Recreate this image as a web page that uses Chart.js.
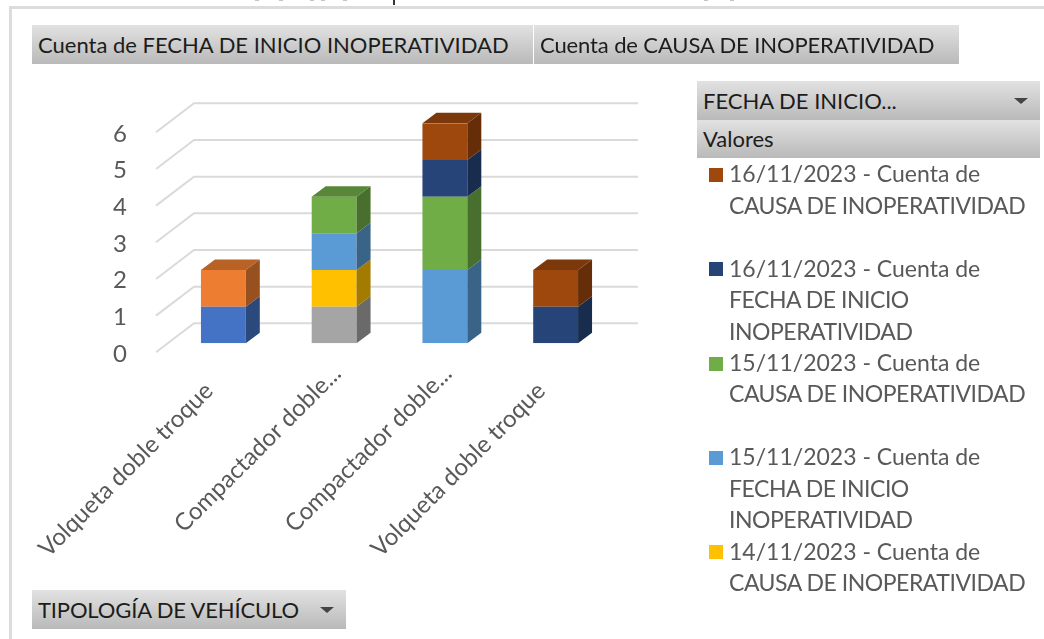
<!DOCTYPE html>
<html lang="es">
<head>
<meta charset="utf-8">
<title>Cuenta de inoperatividad</title>
<script src="https://cdn.jsdelivr.net/npm/chart.js@4"></script>
<style>
  html, body { margin: 0; padding: 0; background: #fff; }
  body { position: relative; width: 1044px; height: 639px; overflow: hidden; font-family: Lato, sans-serif; }
  canvas { position: absolute; left: 0; top: 0; }
  .frame-top { position: absolute; left: 9px; top: 6px; width: 1035px; height: 3px; background: #dcdcdc; }
  .frame-left { position: absolute; left: 9px; top: 6px; width: 3px; height: 633px; background: #dcdcdc; }
  .cut-mark { position: absolute; left: 393px; top: 0; width: 2px; height: 5px; background: #333; }
  .speck { position: absolute; top: 0; width: 4px; height: 1px; background: #c4c4c4; }
  .btn { position: absolute; box-sizing: border-box; height: 39px; line-height: 39px; padding-left: 6px; color: #1c1c1c;
         font-size: 22px; white-space: nowrap; overflow: hidden; background: linear-gradient(#e2e2e2, #b9b9b9); }
  .btn.arrow::after { content: ''; position: absolute; top: 17px; border-left: 7px solid transparent; border-right: 7px solid transparent; border-top: 6px solid #444; right: 12px; }
  #legend { position: absolute; left: 709px; top: 158.4px; }
  .item { position: relative; height: 94.3px; padding-left: 20px; color: #595959; font-size: 23px; line-height: 31.5px; white-space: nowrap; }
  .item i { position: absolute; left: 0; top: 9.6px; width: 14px; height: 14px; }
  .item span { letter-spacing: -0.47px; }
</style>
</head>
<body>
<canvas id="chart" width="1044" height="639"></canvas>
<div class="frame-top"></div>
<div class="frame-left"></div>
<div class="cut-mark"></div>
<div class="speck" style="left:255px"></div>
<div class="speck" style="left:279px"></div>
<div class="speck" style="left:310px"></div>
<div class="speck" style="left:321px"></div>
<div class="speck" style="left:343px"></div>
<div class="speck" style="left:704px"></div>
<div class="speck" style="left:730px"></div>
<div class="btn" style="left:32px;top:25px;width:501px;">Cuenta de FECHA DE INICIO INOPERATIVIDAD</div>
<div class="btn" style="left:534px;top:25px;width:425px;letter-spacing:-0.12px;">Cuenta de CAUSA DE INOPERATIVIDAD</div>
<div class="btn arrow" style="left:697px;top:81px;width:343px;">FECHA DE INICIO...</div>
<div class="btn" style="left:697px;top:120px;width:343px;height:38px;line-height:38px;">Valores</div>
<div class="btn arrow" style="left:32px;top:590px;width:314px;letter-spacing:-0.15px;">TIPOLOGÍA DE VEHÍCULO</div>
<div id="legend"></div>
<script>
const categories = ['Volqueta doble troque', 'Compactador doble...', 'Compactador doble...', 'Volqueta doble troque'];
const yTicks = [0, 1, 2, 3, 4, 5, 6];

// stacking order, bottom to top
const seriesBlue = [1, null, null, null];
const seriesOrange = [1, null, null, null];
const seriesGray = [null, 1, null, null];
const seriesYellow = [null, 1, null, null];
const seriesLightBlue = [null, 1, 2, null];
const seriesGreen = [null, 1, 2, null];
const seriesNavy = [null, null, 1, 1];
const seriesBrown = [null, null, 1, 1];

const seriesValues = [seriesBlue, seriesOrange, seriesGray, seriesYellow, seriesLightBlue, seriesGreen, seriesNavy, seriesBrown];
const seriesColors = ['#4472C4', '#ED7D31', '#A5A5A5', '#FFC000', '#5B9BD5', '#70AD47', '#264478', '#9E480E'];
const seriesNames = ['Azul', 'Naranja', 'Gris', '14/11/2023 - CAUSA', '15/11/2023 - FECHA', '15/11/2023 - CAUSA', '16/11/2023 - FECHA', '16/11/2023 - CAUSA'];

const legendDates = ['16/11/2023 - Cuenta de', '16/11/2023 - Cuenta de', '15/11/2023 - Cuenta de', '15/11/2023 - Cuenta de', '14/11/2023 - Cuenta de'];
const legendFields = [
  ['CAUSA DE INOPERATIVIDAD'],
  ['FECHA DE INICIO', 'INOPERATIVIDAD'],
  ['CAUSA DE INOPERATIVIDAD'],
  ['FECHA DE INICIO', 'INOPERATIVIDAD'],
  ['CAUSA DE INOPERATIVIDAD']
];
const legendColors = ['#9E480E', '#264478', '#70AD47', '#5B9BD5', '#FFC000'];

const legend = document.getElementById('legend');
legendDates.forEach((date, i) => {
  const item = document.createElement('div');
  item.className = 'item';
  item.innerHTML = `<i style="background:${legendColors[i]}"></i>${date}<br>` +
    legendFields[i].map(l => `<span>${l}</span>`).join('<br>');
  legend.appendChild(item);
});

function shade(hex, f) {
  const n = parseInt(hex.slice(1), 16);
  const r = Math.round((n >> 16) * f);
  const g = Math.round(((n >> 8) & 255) * f);
  const b = Math.round((n & 255) * f);
  return `rgb(${r},${g},${b})`;
}

function poly(ctx, pts, color) {
  ctx.fillStyle = color;
  ctx.beginPath();
  pts.forEach((p, i) => i ? ctx.lineTo(p[0], p[1]) : ctx.moveTo(p[0], p[1]));
  ctx.closePath();
  ctx.fill();
}

// back wall and side wall of the 3D plot
const wallPlugin = {
  id: 'wall',
  beforeDatasetsDraw(chart) {
    const { ctx, chartArea, scales } = chart;
    ctx.save();
    ctx.strokeStyle = '#dadada';
    ctx.lineWidth = 2;
    yTicks.forEach(v => {
      const y = scales.y.getPixelForValue(v);
      ctx.beginPath();
      ctx.moveTo(chartArea.left - 12, y + 9);
      ctx.lineTo(chartArea.left + 26, y - 20);
      ctx.lineTo(chartArea.right + 27, y - 20);
      ctx.stroke();
    });
    ctx.restore();
  }
};

// side and top faces of the stacked boxes
const boxPlugin = {
  id: 'box',
  afterDatasetsDraw(chart) {
    const { ctx } = chart;
    const dx = 14;
    const dy = -10.5;
    const tops = {};
    chart.data.datasets.forEach((ds, d) => {
      chart.getDatasetMeta(d).data.forEach((bar, i) => {
        if (ds.data[i] == null) return;
        const right = bar.x + bar.width / 2;
        poly(ctx, [[right, bar.base], [right + dx, bar.base + dy], [right + dx, bar.y + dy], [right, bar.y]], shade(ds.backgroundColor, 0.64));
        tops[i] = { bar, color: ds.backgroundColor };
      });
    });
    Object.values(tops).forEach(({ bar, color }) => {
      const left = bar.x - bar.width / 2;
      const right = bar.x + bar.width / 2;
      poly(ctx, [[left, bar.y], [right, bar.y], [right + dx, bar.y + dy], [left + dx, bar.y + dy]], shade(color, 0.78));
    });
  }
};

new Chart(document.getElementById('chart'), {
  type: 'bar',
  data: {
    labels: categories,
    datasets: seriesValues.map((data, i) => ({
      label: seriesNames[i],
      data,
      backgroundColor: seriesColors[i],
      categoryPercentage: 1,
      barPercentage: 0.405
    }))
  },
  options: {
    responsive: false,
    animation: false,
    layout: { padding: { top: 123.3, right: 433, left: 0, bottom: 0 } },
    plugins: { legend: { display: false }, tooltip: { enabled: false } },
    scales: {
      x: {
        stacked: true,
        grid: { display: false },
        border: { display: false },
        afterFit(scale) {
          scale.height = 295.7;
          scale.paddingLeft = 0;
          scale.paddingRight = 0;
        },
        ticks: {
          autoSkip: false,
          minRotation: 45,
          maxRotation: 45,
          padding: 8,
          labelOffset: 3,
          color: '#595959',
          font: { family: 'Lato', size: 24 },
          // the longer Volqueta labels sit further from the axis in the original
          callback(value) {
            const label = this.getLabelForValue(value);
            return label.startsWith('Volqueta') ? label + '    ' : label;
          }
        }
      },
      y: {
        stacked: true,
        min: 0,
        max: 6,
        grid: { display: false },
        border: { display: false },
        afterFit(scale) {
          scale.width = 168;
        },
        ticks: {
          stepSize: 1,
          padding: 33,
          labelOffset: 10.5,
          color: '#595959',
          font: { family: 'Lato', size: 24 }
        }
      }
    }
  },
  plugins: [wallPlugin, boxPlugin]
});
</script>
</body>
</html>
